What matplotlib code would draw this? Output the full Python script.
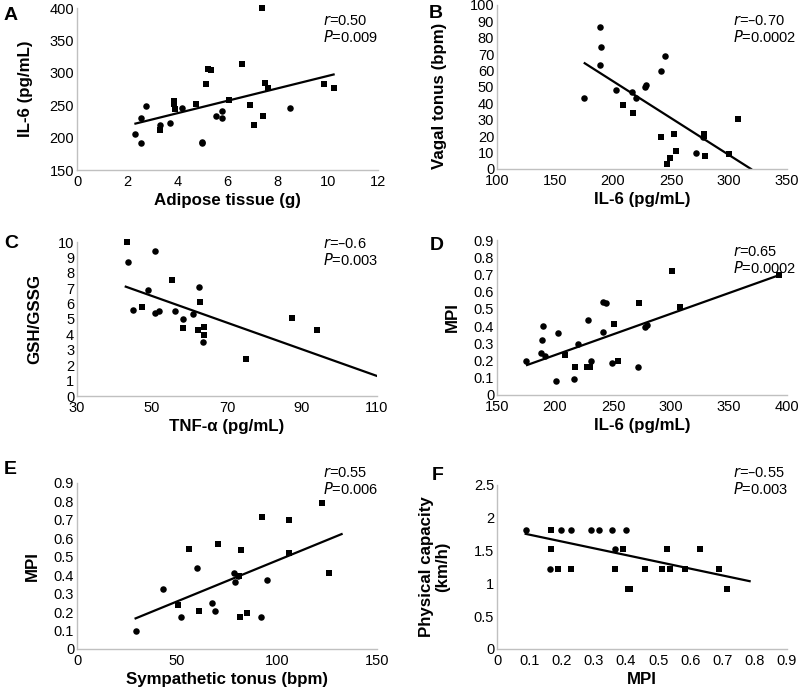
import matplotlib
matplotlib.use("Agg")
import matplotlib.pyplot as plt

plt.rcParams['font.family'] = ['Liberation Sans', 'DejaVu Sans']

# A: adipose tissue vs IL-6
a_circ_x = [2.33, 2.55, 2.56, 2.74, 3.30, 3.69, 4.20, 4.98, 5.0, 5.53, 5.78, 5.79, 8.50]
a_circ_y = [205, 191, 230, 248, 220, 223, 245, 193, 191, 233, 241, 231, 246]
a_sq_x = [3.32, 3.85, 3.88, 3.90, 4.76, 5.16, 5.22, 5.35, 6.06, 6.56, 6.88, 7.07, 7.38, 7.42, 7.48, 7.60, 9.83, 10.23]
a_sq_y = [211, 257, 252, 244, 252, 282, 306, 305, 258, 313, 250, 220, 400, 233, 284, 277, 282, 276]
a_fit_x = [2.33, 10.23]
a_fit_y = [221.6, 297.4]

# B: IL-6 vs vagal tonus
b_circ_x = [175, 189, 190, 189, 202.6, 216, 219.5, 228, 228.5, 241.7, 244.5, 271.5, 278]
b_circ_y = [43, 86.6, 74.6, 63.3, 47.9, 46.9, 43.2, 50, 51, 60, 69, 9.7, 19.3]
b_sq_x = [208.6, 217.2, 241.7, 246.6, 249.4, 252.9, 254.3, 278.2, 278.7, 279.6, 300.3, 307.8]
b_sq_y = [39.1, 34.1, 19.5, 3.2, 6.7, 21.1, 11, 21.1, 19.9, 8.1, 8.9, 30.2]
b_fit_x = [175.6, 319]
b_fit_y = [64.5, 0]

# C: TNF-alpha vs GSH/GSSG
c_circ_x = [43.7, 44.9, 48.8, 50.8, 50.8, 51.8, 56.0, 58.3, 60.8, 62.5, 63.7]
c_circ_y = [8.72, 5.56, 6.9, 9.39, 5.39, 5.5, 5.52, 4.98, 5.32, 7.06, 3.48]
c_sq_x = [43.2, 47.3, 55.4, 58.3, 62.2, 62.8, 63.8, 63.9, 75.0, 87.2, 94.0]
c_sq_y = [9.98, 5.8, 7.51, 4.44, 4.31, 6.08, 4.46, 3.98, 2.38, 5.06, 4.31]
c_fit_x = [43.0, 110]
c_fit_y = [7.1, 1.3]

# D: IL-6 vs MPI
d_circ_x = [175, 188.8, 189.4, 188.2, 191.7, 200.6, 202.6, 216.4, 219.5, 228.2, 231, 241.4, 241.4, 244.3, 248.9, 271.3, 277.9, 279.3]
d_circ_y = [0.197, 0.319, 0.403, 0.246, 0.228, 0.083, 0.358, 0.091, 0.296, 0.435, 0.195, 0.368, 0.54, 0.536, 0.188, 0.165, 0.393, 0.406]
d_sq_x = [208.3, 217, 227.6, 230.5, 250.6, 254.6, 272.4, 300.9, 307.5, 392.8]
d_sq_y = [0.23, 0.165, 0.165, 0.165, 0.41, 0.2, 0.532, 0.718, 0.513, 0.695]
d_fit_x = [175.9, 392.8]
d_fit_y = [0.174, 0.695]

# E: sympathetic tonus vs MPI
e_circ_x = [29.3, 43, 51.8, 59.8, 67.3, 69.2, 78.3, 79, 80.3, 92, 95]
e_circ_y = [0.099, 0.324, 0.173, 0.441, 0.251, 0.208, 0.41, 0.365, 0.398, 0.173, 0.374]
e_sq_x = [50.5, 56, 61.2, 70.7, 81, 81.3, 81.8, 84.8, 92.3, 106, 106, 122.3, 126]
e_sq_y = [0.237, 0.542, 0.208, 0.567, 0.398, 0.173, 0.535, 0.195, 0.718, 0.7, 0.519, 0.79, 0.412]
e_fit_x = [29.3, 132.3]
e_fit_y = [0.166, 0.623]

# F: MPI vs physical capacity
f_circ_x = [0.089, 0.2, 0.231, 0.292, 0.317, 0.356, 0.4, 0.367, 0.166]
f_circ_y = [1.82, 1.82, 1.82, 1.82, 1.82, 1.82, 1.82, 1.52, 1.22]
f_sq_x = [0.167, 0.167, 0.188, 0.231, 0.391, 0.365, 0.407, 0.412, 0.46, 0.511, 0.529, 0.536, 0.583, 0.63, 0.69, 0.714]
f_sq_y = [1.82, 1.52, 1.22, 1.22, 1.52, 1.22, 0.92, 0.92, 1.22, 1.22, 1.52, 1.22, 1.22, 1.52, 1.22, 0.92]
f_fit_x = [0.089, 0.784]
f_fit_y = [1.755, 1.034]

W, H = 798, 689
fig = plt.figure(figsize=(W / 100, H / 100), dpi=100)


def px_axes(left, top, right, bottom):
    return fig.add_axes([left / W, 1 - bottom / H, (right - left) / W, (bottom - top) / H])


def panel(box, circ, sq, fit, xlim, ylim, xticks, yticks, xlabel, ylabel,
          letter, letter_xy, stats, stats_xy, ylabel_xy):
    ax = px_axes(*box)
    ax.scatter(circ[0], circ[1], marker='o', s=22, color='black', linewidths=0, zorder=3, clip_on=False)
    ax.scatter(sq[0], sq[1], marker='s', s=22, color='black', linewidths=0, zorder=3, clip_on=False)
    ax.plot(fit[0], fit[1], color='black', lw=1.6, zorder=2)
    ax.set_xlim(*xlim)
    ax.set_ylim(*ylim)
    ax.set_xticks(xticks)
    ax.set_yticks(yticks)
    ax.set_xticklabels([f'{t:g}' for t in xticks])
    ax.set_yticklabels([f'{t:g}' for t in yticks])
    for s in ['top', 'right']:
        ax.spines[s].set_visible(False)
    for s in ['left', 'bottom']:
        ax.spines[s].set_color('#c0c0c0')
        ax.spines[s].set_linewidth(1.0)
    ax.tick_params(length=0, labelsize=10.5)
    ax.tick_params(axis='x', pad=3.5)
    ax.tick_params(axis='y', pad=2)
    ax.set_xlabel(xlabel, fontsize=12.2, fontweight='bold', labelpad=3)
    ax.set_ylabel(ylabel, fontsize=12.2, fontweight='bold', linespacing=1.1)
    # label position given in figure pixels
    ax.yaxis.set_label_coords((ylabel_xy[0] - box[0]) / (box[2] - box[0]),
                              (box[3] - ylabel_xy[1]) / (box[3] - box[1]))
    fig.text(letter_xy[0] / W, 1 - letter_xy[1] / H, letter, fontsize=14,
             fontweight='bold', ha='left', va='center')
    fig.text(stats_xy[0] / W, 1 - stats_xy[1] / H, f'$r$={stats[0]}', fontsize=10.5,
             ha='left', va='center')
    fig.text(stats_xy[0] / W, 1 - (stats_xy[1] + 16) / H, f'$P$={stats[1]}', fontsize=10.5,
             ha='left', va='center')
    return ax


panel((77, 8, 378, 170), (a_circ_x, a_circ_y), (a_sq_x, a_sq_y), (a_fit_x, a_fit_y),
      (0, 12), (150, 400), [0, 2, 4, 6, 8, 10, 12], [150, 200, 250, 300, 350, 400],
      'Adipose tissue (g)', 'IL-6 (pg/mL)', 'A', (4, 15), ('0.50', '0.009'), (323, 21), (33, 89))

panel((497, 5, 787, 169), (b_circ_x, b_circ_y), (b_sq_x, b_sq_y), (b_fit_x, b_fit_y),
      (100, 350), (0, 100), [100, 150, 200, 250, 300, 350], list(range(0, 101, 10)),
      'IL-6 (pg/mL)', 'Vagal tonus (bpm)', 'B', (429, 14), ('\u20130.70', '0.0002'), (733, 21), (447, 96))

panel((77, 242, 377, 396), (c_circ_x, c_circ_y), (c_sq_x, c_sq_y), (c_fit_x, c_fit_y),
      (30, 110), (0, 10), [30, 50, 70, 90, 110], list(range(0, 11)),
      'TNF-\u03b1 (pg/mL)', 'GSH/GSSG', 'C', (4, 243), ('\u20130.6', '0.003'), (323, 244), (42, 319))

panel((497, 240, 787, 395), (d_circ_x, d_circ_y), (d_sq_x, d_sq_y), (d_fit_x, d_fit_y),
      (150, 400), (0, 0.9), [150, 200, 250, 300, 350, 400], [i / 10 for i in range(10)],
      'IL-6 (pg/mL)', 'MPI', 'D', (430, 245), ('0.65', '0.0002'), (733, 252), (460, 317))

panel((77, 483, 377, 649), (e_circ_x, e_circ_y), (e_sq_x, e_sq_y), (e_fit_x, e_fit_y),
      (0, 150), (0, 0.9), [0, 50, 100, 150], [i / 10 for i in range(10)],
      'Sympathetic tonus (bpm)', 'MPI', 'E', (4, 470), ('0.55', '0.006'), (323, 473), (40, 566))

panel((497, 485, 787, 649), (f_circ_x, f_circ_y), (f_sq_x, f_sq_y), (f_fit_x, f_fit_y),
      (0, 0.9), (0, 2.5), [i / 10 for i in range(10)], [0, 0.5, 1, 1.5, 2, 2.5],
      'MPI', 'Physical capacity\n(km/h)', 'F', (432, 475), ('\u20130.55', '0.003'), (733, 473), (450, 567))

fig.savefig('out.png', dpi=100)
